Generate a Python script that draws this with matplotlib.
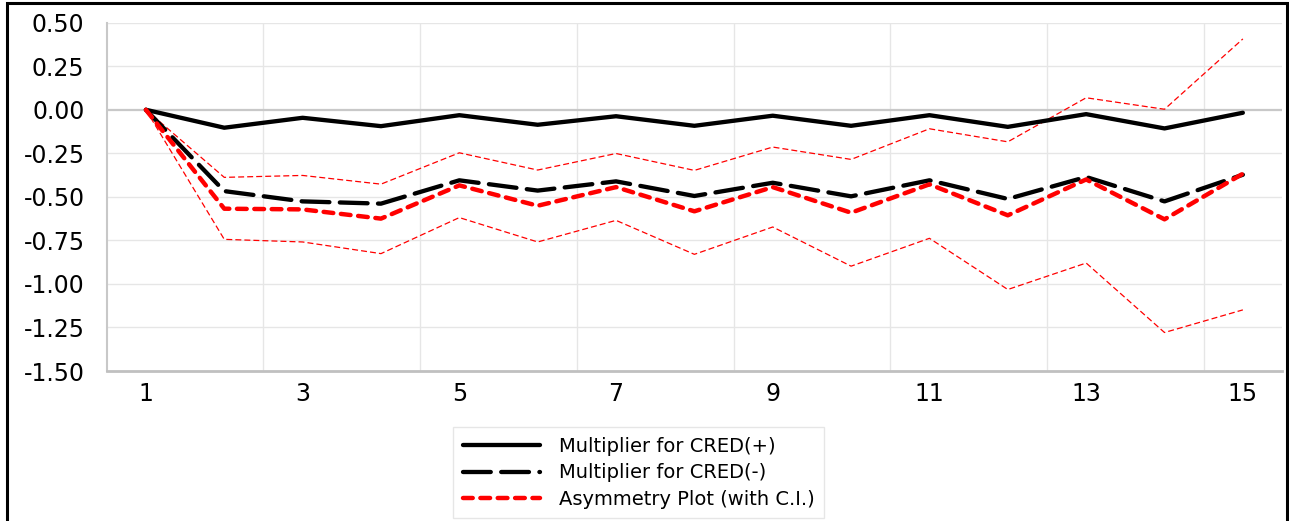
import matplotlib.pyplot as plt
from matplotlib.patches import Rectangle

plt.rcParams['axes.unicode_minus'] = False
plt.rcParams['lines.scale_dashes'] = False
plt.rcParams['font.family'] = ['DejaVu Sans']

# horizon 1..15
horizon = list(range(1, 16))
cred_pos = [0.0, -0.103, -0.046, -0.094, -0.031, -0.086, -0.037, -0.092,
            -0.034, -0.092, -0.031, -0.098, -0.025, -0.107, -0.017]
cred_neg = [0.0, -0.467, -0.526, -0.539, -0.405, -0.464, -0.411, -0.495,
            -0.419, -0.497, -0.405, -0.512, -0.386, -0.526, -0.373]
asym = [0.0, -0.568, -0.572, -0.625, -0.434, -0.551, -0.444, -0.583,
        -0.444, -0.591, -0.428, -0.606, -0.400, -0.629, -0.367]
ci_upper = [0.0, -0.388, -0.377, -0.427, -0.247, -0.346, -0.251, -0.348,
            -0.214, -0.285, -0.109, -0.184, 0.069, 0.003, 0.407]
ci_lower = [0.0, -0.744, -0.759, -0.826, -0.619, -0.759, -0.635, -0.830,
            -0.673, -0.898, -0.738, -1.032, -0.880, -1.279, -1.149]
y_ticks = [0.5, 0.25, 0.0, -0.25, -0.5, -0.75, -1.0, -1.25, -1.5]
x_labels = [1, 3, 5, 7, 9, 11, 13, 15]

fig = plt.figure(figsize=(12.89, 5.21), dpi=100)
ax = fig.add_axes([0.0828, 0.2879, 0.9118, 0.6685])

# grid lines like the spreadsheet chart
for v in y_ticks:
    if v == 0.0:
        ax.axhline(v, color='#c8c8c8', lw=1.6, zorder=1)
    elif v != -1.5:
        ax.axhline(v, color='#e6e6e6', lw=1.0, zorder=0)
for g in range(2, 15, 2):
    ax.axvline(g + 0.5, color='#e6e6e6', lw=1.0, zorder=0)

ax.plot(horizon, cred_pos, color='black', lw=3.1, solid_capstyle='round',
        solid_joinstyle='round', label='Multiplier for CRED(+)', zorder=3)
ax.plot(horizon, cred_neg, color='black', lw=3.1, linestyle=(0, (20, 7.5)),
        dash_capstyle='round', dash_joinstyle='round',
        label='Multiplier for CRED(-)', zorder=3)
ax.plot(horizon, asym, color='#ff0000', lw=3.2, linestyle=(0, (7, 5.5)),
        dash_capstyle='round', dash_joinstyle='round',
        label='Asymmetry Plot (with C.I.)', zorder=4)
ax.plot(horizon, ci_upper, color='#ff0000', lw=0.9, linestyle=(0, (4.3, 2.2)), zorder=2)
ax.plot(horizon, ci_lower, color='#ff0000', lw=0.9, linestyle=(0, (4.3, 2.2)), zorder=2)

ax.set_xlim(0.5, 15.5)
ax.set_ylim(-1.5, 0.5)
ax.set_yticks(y_ticks)
ax.set_yticklabels(['%.2f' % v for v in y_ticks])
ax.set_xticks(x_labels)
ax.set_xticklabels([str(v) for v in x_labels])
ax.tick_params(length=0, labelsize=17, colors='black')
ax.tick_params(axis='y', pad=16)
ax.tick_params(axis='x', pad=8)

for side in ['top', 'right']:
    ax.spines[side].set_visible(False)
ax.spines['left'].set_color('#c8c8c8')
ax.spines['left'].set_linewidth(1.5)
ax.spines['bottom'].set_color('#c0c0c0')
ax.spines['bottom'].set_linewidth(2.0)

leg = fig.legend(loc='upper left', bbox_to_anchor=(0.3514, 0.180),
                 fontsize=14, frameon=True, fancybox=False,
                 borderaxespad=0, handlelength=4.0, labelspacing=0.38,
                 borderpad=0.5, handletextpad=0.95)
leg.get_frame().set_edgecolor('#e0e0e0')
leg.get_frame().set_linewidth(1.0)

# outer chart border
fig.patches.append(Rectangle((7 / 1289, -0.05), 1280 / 1289, 1.05 - 3 / 521,
                             transform=fig.transFigure, fill=False,
                             edgecolor='black', lw=2.2, clip_on=False))

plt.savefig('out.png', dpi=100)
plt.close()
